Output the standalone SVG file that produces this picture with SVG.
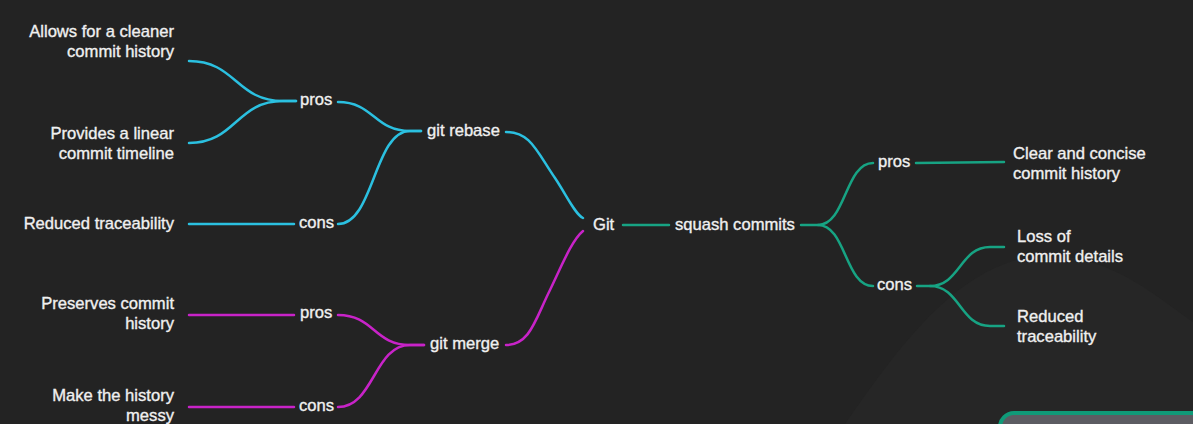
<svg xmlns="http://www.w3.org/2000/svg" width="1193" height="424" viewBox="0 0 1193 424">
<style>
text{font-family:"Liberation Sans",Arial,sans-serif;font-size:16.6px;fill:#f0f0f0;stroke:#f0f0f0;stroke-width:0.35}
.r{text-anchor:end}
path{fill:none;stroke-width:2.5;stroke-linecap:round}
.c{stroke:#2bc0e0}
.m{stroke:#c823c8}
.t{stroke:#17a383}
</style>
<rect width="1193" height="424" fill="#232323"/>
<path d="M845,424 C900,345 960,262 1040,256 C1110,252 1160,300 1193,322 L1193,424 Z" style="fill:#262626;stroke:none"/>
<rect x="1000" y="413" width="220" height="40" rx="14" style="fill:#5c5c62;stroke:#0f9a78;stroke-width:4"/>
<g id="connectors">
<path class="c" d="M189,61 C236,61 236,101 283,101 H296"/>
<path class="c" d="M189,143 C236,143 236,101 283,101 H296"/>
<path class="c" d="M189,224 H294"/>
<path class="c" d="M338,102 C374,102 374,131 410,131 H421"/>
<path class="c" d="M338,224 C374,224 374,131 410,131 H421"/>
<path class="c" d="M506,132 C530,132 536,150 555,178 C567,196 575,214 583,218"/>
<path class="m" d="M506,345 C530,345 535,320 550,290 C562,265 572,240 583,231"/>
<path class="m" d="M189,315 H294"/>
<path class="m" d="M189,407 H294"/>
<path class="m" d="M338,315 C374,315 374,345 410,345 H424"/>
<path class="m" d="M338,407 C374,407 374,345 410,345 H424"/>
<path class="t" d="M623,225 H669"/>
<path class="t" d="M801,225 H818 C846,225 845,163 873,163"/>
<path class="t" d="M818,225 C846,225 845,286 873,286"/>
<path class="t" d="M916,163 L1004,162"/>
<path class="t" d="M917,286 H930 C960,286 960,247 990,247 H1004"/>
<path class="t" d="M930,286 C960,286 960,326 990,326 H1004"/>
</g>
<g id="git"><text x="593" y="230">Git</text></g>
<g id="rebase"><text x="427" y="136">git rebase</text></g>
<g id="rebase-pros"><text x="300" y="105">pros</text></g>
<g id="rebase-cons"><text x="299" y="228">cons</text></g>
<g id="rebase-pro1"><text class="r" x="174" y="37">Allows for a cleaner</text><text class="r" x="174" y="57">commit history</text></g>
<g id="rebase-pro2"><text class="r" x="174" y="139">Provides a linear</text><text class="r" x="174" y="159">commit timeline</text></g>
<g id="rebase-con1"><text class="r" x="174" y="229">Reduced traceability</text></g>
<g id="merge"><text x="430" y="349">git merge</text></g>
<g id="merge-pros"><text x="300" y="318">pros</text></g>
<g id="merge-cons"><text x="299" y="411">cons</text></g>
<g id="merge-pro1"><text class="r" x="174" y="309">Preserves commit</text><text class="r" x="174" y="329">history</text></g>
<g id="merge-con1"><text class="r" x="174" y="401">Make the history</text><text class="r" x="174" y="421">messy</text></g>
<g id="squash"><text x="675" y="230">squash commits</text></g>
<g id="squash-pros"><text x="878" y="167">pros</text></g>
<g id="squash-cons"><text x="877" y="290">cons</text></g>
<g id="squash-pro1"><text x="1013" y="159">Clear and concise</text><text x="1013" y="179">commit history</text></g>
<g id="squash-con1"><text x="1017" y="242">Loss of</text><text x="1017" y="262">commit details</text></g>
<g id="squash-con2"><text x="1017" y="322">Reduced</text><text x="1017" y="342">traceability</text></g>
</svg>
